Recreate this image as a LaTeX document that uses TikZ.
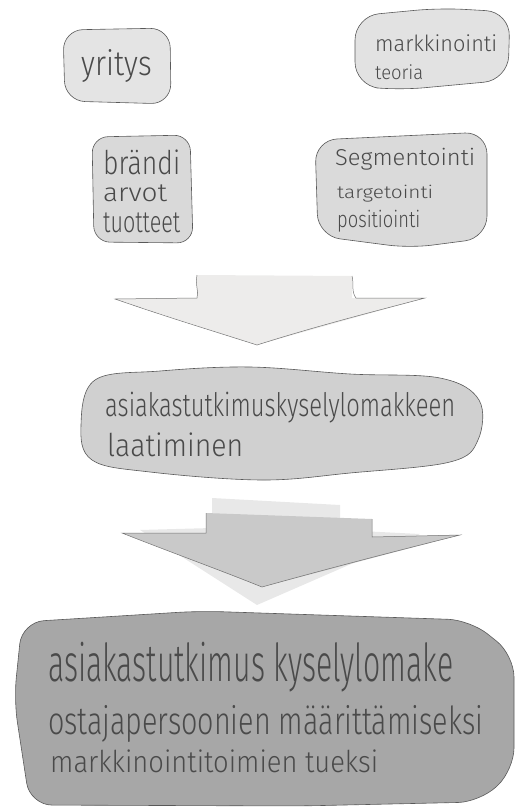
\documentclass[tikz,border=0pt]{standalone}
\usepackage{fontspec}
\setmainfont{Fira Sans Light}[Ligatures=NoCommon]
\usepackage{graphicx}
\newcommand{\fitt}[3]{\resizebox*{#1}{#2}{#3}}
\definecolor{cA}{HTML}{E4E4E4}
\definecolor{cB}{HTML}{E2E2E2}
\definecolor{cC}{HTML}{D9D9D9}
\definecolor{cD}{HTML}{DADADA}
\definecolor{cE}{HTML}{D0D0D0}
\definecolor{cF}{HTML}{A7A7A7}
\definecolor{arA}{HTML}{EDECEB}
\definecolor{arB}{HTML}{C9C9C9}
\definecolor{arFaint}{HTML}{E8E8E8}
\definecolor{ink}{HTML}{4A4A4A}
\begin{document}
\begin{tikzpicture}[x=1pt,y=-1pt,
  box/.style={draw=black!65, line width=0.6pt},
  arrowline/.style={draw=black!55, line width=0.5pt},
  txt/.style={inner sep=0pt, text=ink}]
\useasboundingbox (0,0) rectangle (517,808);

% --- top boxes
\draw[box, fill=cA, rounded corners=20pt] (116,29) -- (170,28) -- (171,104) -- (65,101) -- (63,30) -- cycle;
\draw[box, fill=cB, rounded corners=24pt] (440,8) -- (510,12) -- (508,80) -- (400,90) -- (355,86) -- (355,16) -- cycle;
\draw[box, fill=cC, rounded corners=16pt] (141,136) -- (190,135) -- (193,243) -- (94,242) -- (92,137) -- cycle;
\draw[box, fill=cD, rounded corners=22pt] (400,136) -- (487,132) -- (487,238) -- (410,248) -- (318,236) -- (315,140) -- cycle;

\node[txt] (yr) at (117,66.5) {\fitt{70pt}{33pt}{yritys}};
\node[txt, anchor=west] (mk) at (375,43.5) {\fitt{122pt}{17pt}{markkinointi}};
\node[txt, anchor=west] (te) at (375,72.5) {\fitt{48pt}{15pt}{teoria}};
\node[txt, anchor=west] (br) at (103,162.5) {\fitt{77pt}{25pt}{brändi}};
\node[txt, anchor=west] (ar) at (103,193.5) {\fitt{64pt}{17pt}{arvot}};
\node[txt, anchor=west] (tu) at (103,223) {\fitt{77pt}{20pt}{tuotteet}};
\node[txt, anchor=west] (se) at (335,159) {\fitt{140pt}{22pt}{Segmentointi}};
\node[txt, anchor=west] (ta) at (337,193.5) {\fitt{96pt}{17pt}{targetointi}};
\node[txt, anchor=west] (po) at (337,221) {\fitt{83pt}{22pt}{positiointi}};

% --- arrow 1
\fill[arA] (197,275) -- (197,298) -- (115,299) -- (257,345) -- (425,298) -- (352,298) -- (352,276) -- cycle;
\draw[arrowline] (197,275) .. controls (195,285) and (199,292) .. (197,298) -- (115,299)
  .. controls (170,318) and (210,330) .. (257,345)
  .. controls (320,325) and (380,310) .. (425,298) -- (356,298)
  .. controls (351,292) and (354,282) .. (352,276);

% --- middle blob
\draw[box, fill=cE] plot[smooth cycle, tension=0.6] coordinates {
  (81,425) (95,380) (160,371) (250,367) (350,374) (440,378) (479,400)
  (478,440) (450,462) (350,473) (262,480) (150,472) (92,460)};
\node[txt, anchor=west] (l1) at (105,407.5) {\fitt{350pt}{31pt}{asiakastutkimuskyselylomakkeen}};
\node[txt, anchor=west] (l2) at (107,445) {\fitt{136pt}{24pt}{laatiminen}};

% --- arrow 2
\fill[arFaint] (212,498) -- (340,505) -- (340,530) -- (420,534) -- (257,605) -- (140,530) -- (212,528) -- cycle;
\fill[arB] (206,513) -- (206,533) -- (122,533) -- (262,587) -- (460,535) -- (372,537) -- (372,519) -- cycle;
\draw[arrowline] (206,513) -- (206,533) -- (122,533)
  .. controls (170,552) and (220,570) .. (262,587)
  .. controls (330,568) and (400,550) .. (460,535) -- (372,537) -- (372,519);

% --- bottom box
\draw[box, fill=cF, rounded corners=22pt] (200,611) -- (470,620) -- (514,655) -- (514,770) -- (480,802) -- (300,806) -- (30,805) -- (14,700) -- (22,622) -- cycle;
\node[txt, anchor=west] (b1) at (48,667) {\fitt{405pt}{50pt}{asiakastutkimus kyselylomake}};
\node[txt, anchor=west] (b2) at (48,723.5) {\fitt{435pt}{37pt}{ostajapersoonien määrittämiseksi}};
\node[txt, anchor=west] (b3) at (50,761.5) {\fitt{328pt}{23pt}{markkinointitoimien tueksi}};
\end{tikzpicture}
\end{document}
